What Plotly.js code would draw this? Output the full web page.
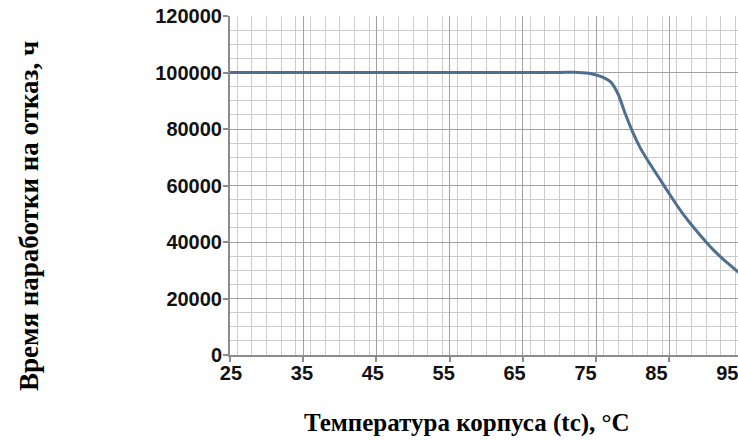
<!DOCTYPE html>
<html>
<head>
<meta charset="utf-8">
<script src="https://cdn.plot.ly/plotly-3.0.1.min.js"></script>
<style>
html,body{margin:0;padding:0;overflow:hidden;background:#fff;width:738px;height:440px;}
#chart{width:760px;height:440px;}
</style>
</head>
<body>
<div id="chart"></div>
<script>
const temperature = [25, 70, 72, 74, 75, 76, 77, 78, 79, 80, 81, 82, 83, 84, 85, 86, 87, 88, 89, 90, 91, 92, 93, 94, 95, 96];
const mtbfHours = [100000, 100000, 100100, 99700, 99100, 98200, 96600, 92300, 85200, 78800, 73400, 69000, 65000, 61000, 57000, 53100, 49400, 46100, 43000, 40000, 37200, 34700, 32400, 30200, 28200, 26300];
const xTickValues = [25, 35, 45, 55, 65, 75, 85, 95];
const xTickLabels = ['25', '35', '45', '55', '65', '75', '85', '95'];
const xTitle = 'Температура корпуса (tc), °C';
const yTitle = 'Время наработки на отказ, ч';

const trace = {
  x: temperature,
  y: mtbfHours,
  type: 'scatter',
  mode: 'lines',
  line: {color: '#4e6f8f', width: 3, shape: 'spline', smoothing: 0.6},
  hoverinfo: 'x+y'
};
// invisible helper trace that carries the tick-label axis
const labelTrace = {
  x: xTickValues,
  y: xTickValues.map(() => null),
  xaxis: 'x2',
  type: 'scatter',
  mode: 'lines',
  hoverinfo: 'skip',
  showlegend: false
};

const tickFont = {family: '"Liberation Sans", Arial, sans-serif', size: 20, weight: 'bold', color: '#111'};
const xTitleFont = {family: '"Liberation Serif", "Times New Roman", serif', size: 25, weight: 'bold', color: '#000'};
const yTitleFont = {family: '"Liberation Serif", "Times New Roman", serif', size: 27, weight: 'bold', color: '#000'};

const layout = {
  width: 760,
  height: 440,
  margin: {l: 230, r: 10, t: 16, b: 85},
  paper_bgcolor: '#fff',
  plot_bgcolor: '#fff',
  showlegend: false,
  xaxis: {
    range: [25, 96],
    tickvals: xTickValues,
    showticklabels: false,
    showgrid: true,
    gridcolor: '#a0a0a0',
    gridwidth: 1,
    showline: true,
    linecolor: '#8c8c8c',
    linewidth: 2,
    ticks: 'outside',
    ticklen: 5,
    tickcolor: '#8c8c8c',
    tickwidth: 2,
    zeroline: false,
    minor: {dtick: 2, showgrid: true, gridcolor: '#cccccc', gridwidth: 1}
  },
  xaxis2: {
    overlaying: 'x',
    side: 'bottom',
    anchor: 'y',
    range: [24.86, 98.2],
    tickvals: xTickValues,
    ticktext: xTickLabels,
    tickfont: tickFont,
    ticks: '',
    ticklabelstandoff: 4,
    showgrid: false,
    showline: false,
    zeroline: false
  },
  yaxis: {
    range: [0, 120000],
    dtick: 20000,
    showgrid: true,
    gridcolor: '#a0a0a0',
    gridwidth: 1,
    showline: true,
    linecolor: '#8c8c8c',
    linewidth: 2,
    ticks: 'outside',
    ticklen: 5,
    tickcolor: '#8c8c8c',
    tickwidth: 2,
    tickfont: tickFont,
    ticklabelstandoff: -3,
    tickformat: 'd',
    zeroline: false,
    minor: {dtick: 5000, showgrid: true, gridcolor: '#cccccc', gridwidth: 1}
  },
  annotations: [
    {
      text: xTitle,
      xref: 'paper', yref: 'paper',
      x: (467 - 230) / 520, y: -0.2,
      xanchor: 'center', yanchor: 'middle',
      showarrow: false,
      font: xTitleFont
    },
    {
      text: yTitle,
      xref: 'paper', yref: 'paper',
      x: (29 - 230) / 520, y: (355 - 216) / 339,
      xanchor: 'center', yanchor: 'middle',
      textangle: -90,
      showarrow: false,
      font: yTitleFont
    }
  ]
};

Plotly.newPlot('chart', [trace, labelTrace], layout, {displayModeBar: false, staticPlot: true});
</script>
</body>
</html>
